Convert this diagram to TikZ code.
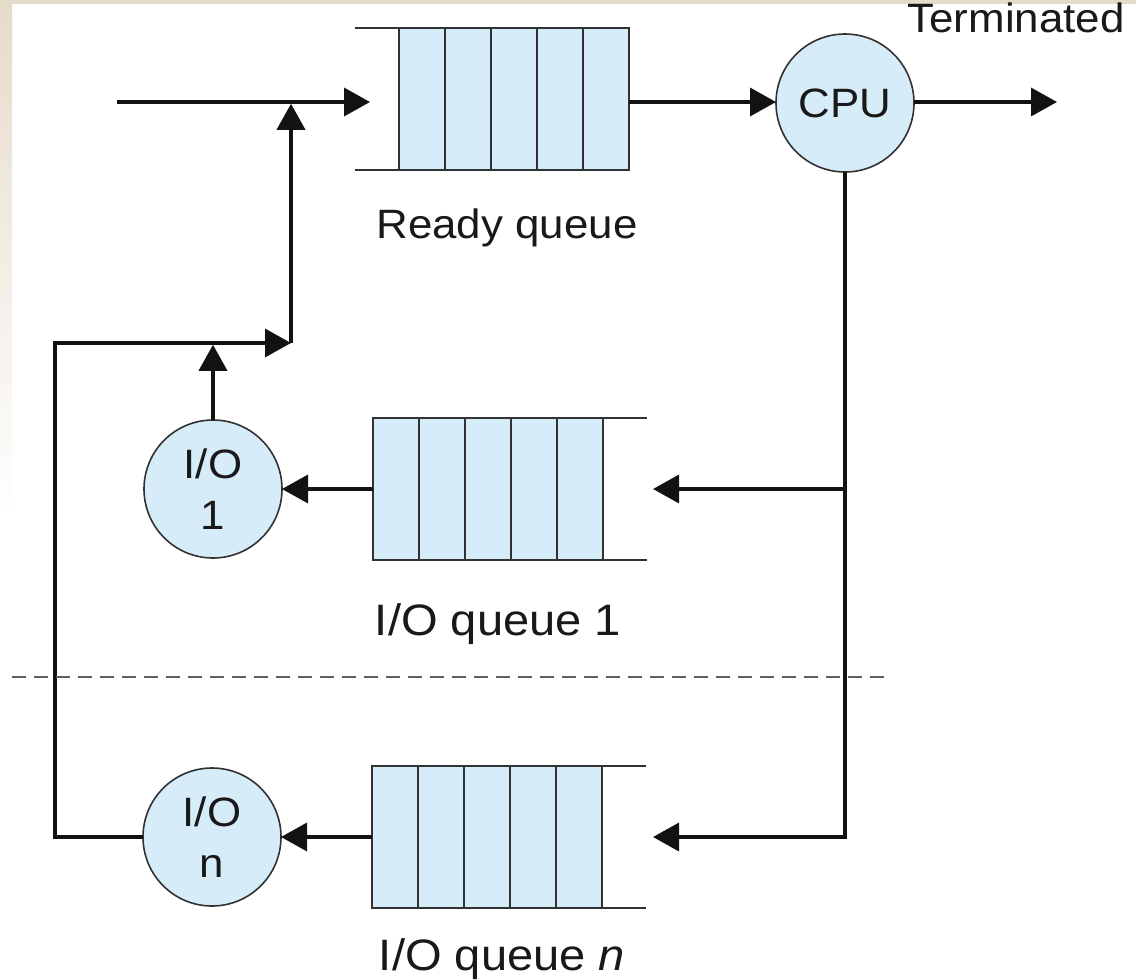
\documentclass[tikz,border=0pt]{standalone}
\usepackage{fontspec}
\setmainfont[FakeStretch=1.07]{Liberation Sans}
\usetikzlibrary{arrows.meta,calc}
\definecolor{qfill}{RGB}{214,236,249}
\definecolor{qline}{RGB}{50,50,50}
\definecolor{conn}{RGB}{18,18,18}
\definecolor{beige}{RGB}{230,219,202}
\definecolor{dashc}{RGB}{95,95,95}
\definecolor{txt}{RGB}{25,25,25}
\newcommand\biglabel{\fontsize{41}{49}\selectfont}
\newcommand\iolabel{\fontsize{44}{52}\selectfont}
\newcommand\srvlabel{\fontsize{41}{51}\selectfont}
\tikzset{
  queuebox/.style={rectangle, draw=qline, fill=qfill, line width=2pt, minimum width=230pt, minimum height=142pt, inner sep=0pt, outer sep=0pt},
  openline/.style={draw=qline, line width=2pt},
  divline/.style={draw=qline, line width=2pt},
  server/.style={circle, draw=qline, fill=qfill, line width=1.6pt, minimum size=138pt, inner sep=0pt, outer sep=0pt, align=center, font=\srvlabel, text=txt},
  flow/.style={draw=conn, line width=3.5pt},
  flowarrow/.style={flow, -{Triangle[length=26pt,width=28pt]}},
  qlabel/.style={font=\biglabel, text=txt, inner sep=0pt, anchor=base},
  iolab/.style={font=\iolabel, text=txt, inner sep=0pt, anchor=base},
  sepline/.style={draw=dashc, line width=2pt, dash pattern=on 14pt off 8pt}
}
\begin{document}
\begin{tikzpicture}[x=1pt,y=-1pt]
\useasboundingbox (0,0) rectangle (1136,980);
% background
\fill[white] (0,0) rectangle (1136,980);
\shade[top color=beige, bottom color=white] (0,0) rectangle (12,520);
\fill[beige] (0,0) rectangle (1136,4);

% queues
\node[queuebox] (rq) at (514,99) {};
\node[queuebox] (q1) at (488,489) {};
\node[queuebox] (qn) at (487,837) {};
\draw[openline] (rq.north west) -- ++(-44,0);
\draw[openline] (rq.south west) -- ++(-44,0);
\draw[openline] (q1.north east) -- ++(44,0);
\draw[openline] (q1.south east) -- ++(44,0);
\draw[openline] (qn.north east) -- ++(44,0);
\draw[openline] (qn.south east) -- ++(44,0);
\foreach \q in {rq,q1,qn}{
  \foreach \i in {1,...,4}{
    \draw[divline] ($(\q.north west)!\i/5!(\q.north east)$) -- ($(\q.south west)!\i/5!(\q.south east)$);
  }
}

% servers
\node[server] (cpu) at (845,103) {CPU};
\node[server] (io1) at (213,489) {I/O\\1};
\node[server] (ion) at (212,837) {I/O\\n};

% coordinates
\coordinate (src) at (117,102);
\coordinate (j1) at (291,102);
\coordinate (rqin) at (370,102);
\coordinate (term) at (1057,102);
\coordinate (q1in) at (653,489);
\coordinate (qnin) at (653,837);
\coordinate (j2) at (291,343);
\coordinate (fbcorner) at (55,343);

% connectors
\draw[flowarrow] (src) -- (rqin);
\draw[flowarrow] (rq.east |- rqin) -- (cpu.west |- rqin);
\draw[flowarrow] (cpu.east |- term) -- (term);
\draw[flowarrow] (cpu.south) |- (qnin);
\draw[flowarrow] (cpu.south |- q1in) -- (q1in);
\draw[flowarrow] (q1.west) -- (io1.east);
\draw[flowarrow] (qn.west) -- (ion.east);
\draw[flowarrow, shorten >=1.75pt] (io1.north) -- (io1.north |- j2);
\draw[flowarrow] (ion.west) -| (fbcorner) -- (j2);
\draw[flowarrow, shorten >=1.75pt] (j2) -- (j1);

% separator
\draw[sepline] (12,677) -- (890,677);

% labels
\node[qlabel] (rql) at (507,238) {Ready queue};
\node[qlabel] (terml) at (1016,32) {Terminated};
\node[iolab] (q1l) at (498,635) {I/O queue 1};
\node[iolab] (qnl) at (502,970) {I/O queue \textit{n}};
\end{tikzpicture}
\end{document}
